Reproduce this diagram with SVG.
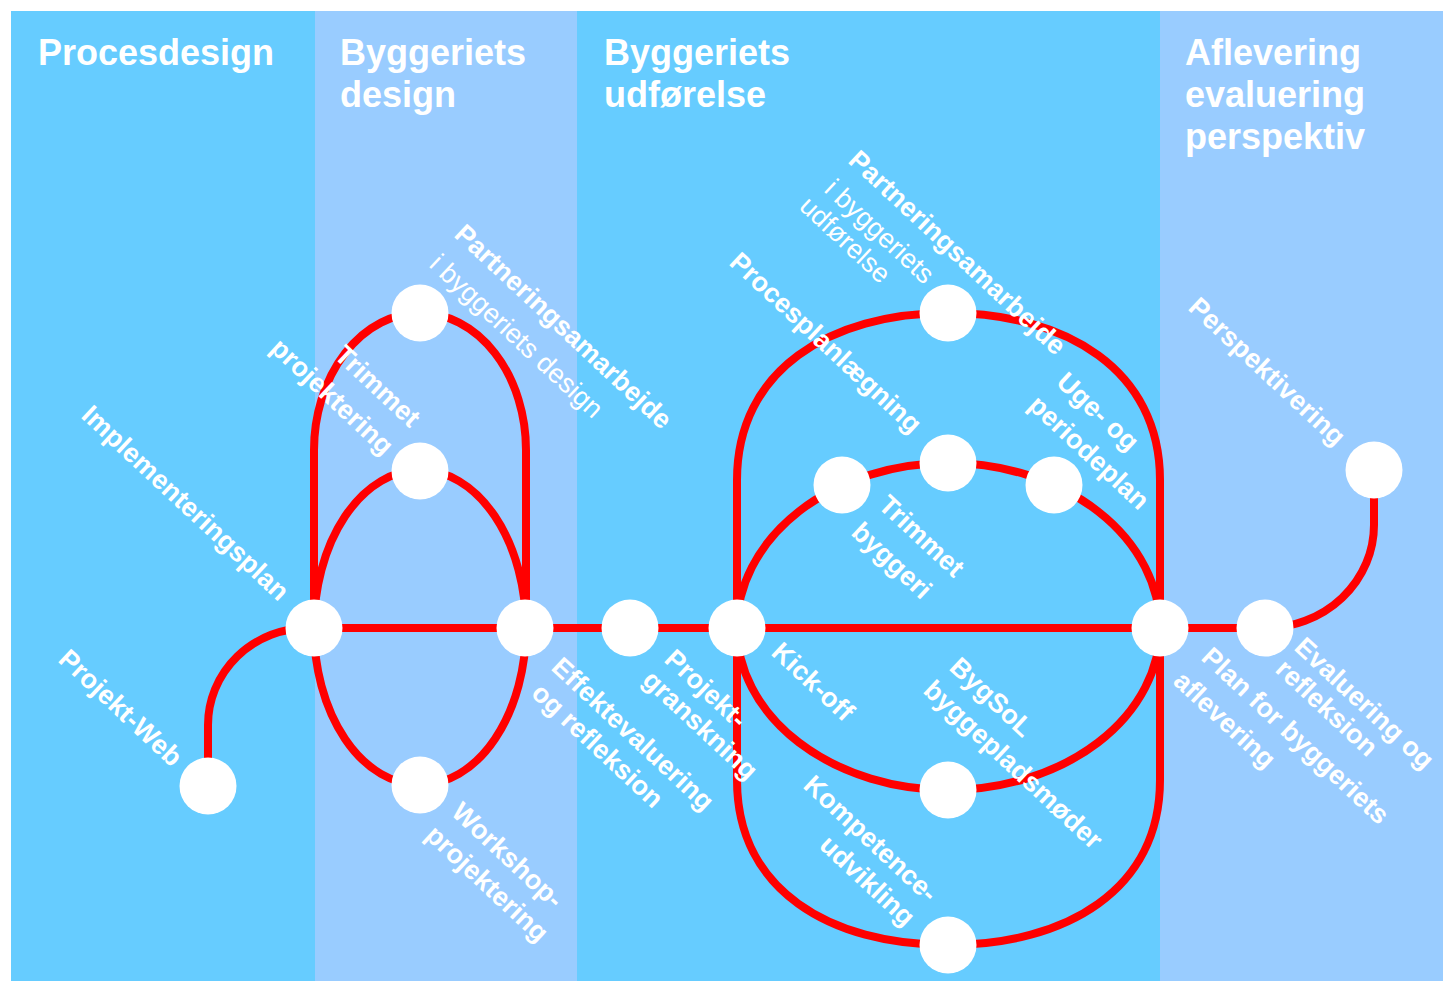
<svg xmlns="http://www.w3.org/2000/svg" width="1443" height="981" viewBox="0 0 1443 981">
<style>
.c1{fill:#66CCFF}
.c2{fill:#99CCFF}
.hdr{font-family:"Liberation Sans",Arial,sans-serif;font-weight:bold;font-size:36px;fill:#fff}
.lbl{font-family:"Liberation Sans",Arial,sans-serif;font-weight:bold;font-size:27px;fill:#fff}
.reg{font-weight:normal}
.ln{fill:none;stroke:#f00;stroke-width:8}
.nd{fill:#fff}
</style>
<rect width="1443" height="981" fill="#fff"/>
<g id="columns">
<rect class="c1" x="11" y="11" width="304" height="970"/>
<rect class="c2" x="315" y="11" width="262" height="970"/>
<rect class="c1" x="577" y="11" width="583" height="970"/>
<rect class="c2" x="1160" y="11" width="283" height="970"/>
</g>
<g id="headers" class="hdr">
<text x="38" y="65">Procesdesign</text>
<text x="340" y="65">Byggeriets</text>
<text x="340" y="107">design</text>
<text x="604" y="65">Byggeriets</text>
<text x="604" y="107">udførelse</text>
<text x="1185" y="65">Aflevering</text>
<text x="1185" y="107">evaluering</text>
<text x="1185" y="149">perspektiv</text>
</g>
<g id="connectors" class="ln">
<path d="M314,628 H1265"/>
<path d="M208,786 V725 A100,97 0 0 1 308,628 H314"/>
<path d="M314,628 V450 A106,137 0 0 1 526,450 V628"/>
<path d="M314,628 A106,158 0 0 1 526,628"/>
<path d="M314,628 A106,157 0 0 0 526,628"/>
<path d="M737,628 V480 C737,370 830,313 948,313 C1066,313 1160,370 1160,480 V628"/>
<path d="M737,628 V780 C737,890 830,945 948,945 C1066,945 1160,890 1160,780 V628"/>
<path d="M737,628 A211.5,165 0 0 1 1160,628"/>
<path d="M737,628 A211.5,162 0 0 0 1160,628"/>
<path d="M1265,628 A109,103 0 0 0 1374,525 V470"/>
</g>
<g id="n-projektweb"><circle class="nd" cx="208" cy="786" r="28.5"/>
<text class="lbl" transform="translate(57,661) rotate(43)">Projekt-Web</text></g>
<g id="n-implementeringsplan"><circle class="nd" cx="314" cy="628" r="28.5"/>
<text class="lbl" transform="translate(80,417) rotate(43)">Implementeringsplan</text></g>
<g id="n-partnering-design"><circle class="nd" cx="420" cy="313" r="28.5"/>
<text class="lbl" transform="translate(453,236) rotate(43)">Partneringsamarbejde</text>
<text class="lbl reg" transform="translate(428,266) rotate(43)">i byggeriets design</text></g>
<g id="n-trimmet-projektering"><circle class="nd" cx="420" cy="471" r="28.5"/>
<text class="lbl" transform="translate(333,357) rotate(43)">Trimmet</text>
<text class="lbl" transform="translate(269,350) rotate(43)">projektering</text></g>
<g id="n-workshop"><circle class="nd" cx="420" cy="785" r="28.5"/>
<text class="lbl" transform="translate(450,814) rotate(43)">Workshop-</text>
<text class="lbl" transform="translate(424,837) rotate(43)">projektering</text></g>
<g id="n-effektevaluering"><circle class="nd" cx="525" cy="628" r="28.5"/>
<text class="lbl" transform="translate(550,669) rotate(43)">Effektevaluering</text>
<text class="lbl" transform="translate(530,695) rotate(43)">og refleksion</text></g>
<g id="n-projektgranskning"><circle class="nd" cx="630" cy="628" r="28.5"/>
<text class="lbl" transform="translate(663,661) rotate(43)">Projekt-</text>
<text class="lbl" transform="translate(641,682) rotate(43)">granskning</text></g>
<g id="n-kickoff"><circle class="nd" cx="737" cy="628" r="28.5"/>
<text class="lbl" transform="translate(770,654) rotate(43)">Kick-off</text></g>
<g id="n-partnering-udfoerelse"><circle class="nd" cx="948" cy="313" r="28.5"/>
<text class="lbl" transform="translate(847,162) rotate(43)">Partneringsamarbejde</text>
<text class="lbl reg" transform="translate(823,191) rotate(43)">i byggeriets</text>
<text class="lbl reg" transform="translate(798,208) rotate(43)">udførelse</text></g>
<g id="n-trimmet-byggeri"><circle class="nd" cx="842" cy="485" r="28.5"/>
<text class="lbl" transform="translate(877,507) rotate(43)">Trimmet</text>
<text class="lbl" transform="translate(850,534) rotate(43)">byggeri</text></g>
<g id="n-procesplanlaegning"><circle class="nd" cx="948" cy="463" r="28.5"/>
<text class="lbl" transform="translate(728,264) rotate(43)">Procesplanlægning</text></g>
<g id="n-ugeplan"><circle class="nd" cx="1054" cy="485" r="28.5"/>
<text class="lbl" transform="translate(1055,384) rotate(43)">Uge- og</text>
<text class="lbl" transform="translate(1027,407) rotate(43)">periodeplan</text></g>
<g id="n-bygsol"><circle class="nd" cx="948" cy="790" r="28.5"/>
<text class="lbl" transform="translate(948,669) rotate(43)">BygSoL</text>
<text class="lbl" transform="translate(922,692) rotate(43)">byggepladsmøder</text></g>
<g id="n-kompetence"><circle class="nd" cx="948" cy="945" r="28.5"/>
<text class="lbl" transform="translate(802,787) rotate(43)">Kompetence-</text>
<text class="lbl" transform="translate(818,847) rotate(43)">udvikling</text></g>
<g id="n-plan-aflevering"><circle class="nd" cx="1160" cy="628" r="28.5"/>
<text class="lbl" transform="translate(1200,659) rotate(43)">Plan for byggeriets</text>
<text class="lbl" transform="translate(1172,683) rotate(43)">aflevering</text></g>
<g id="n-evaluering"><circle class="nd" cx="1265" cy="628" r="28.5"/>
<text class="lbl" transform="translate(1293,649) rotate(43)">Evaluering og</text>
<text class="lbl" transform="translate(1274,671) rotate(43)">refleksion</text></g>
<g id="n-perspektivering"><circle class="nd" cx="1374" cy="470" r="28.5"/>
<text class="lbl" transform="translate(1187,309) rotate(43)">Perspektivering</text></g>
</svg>
